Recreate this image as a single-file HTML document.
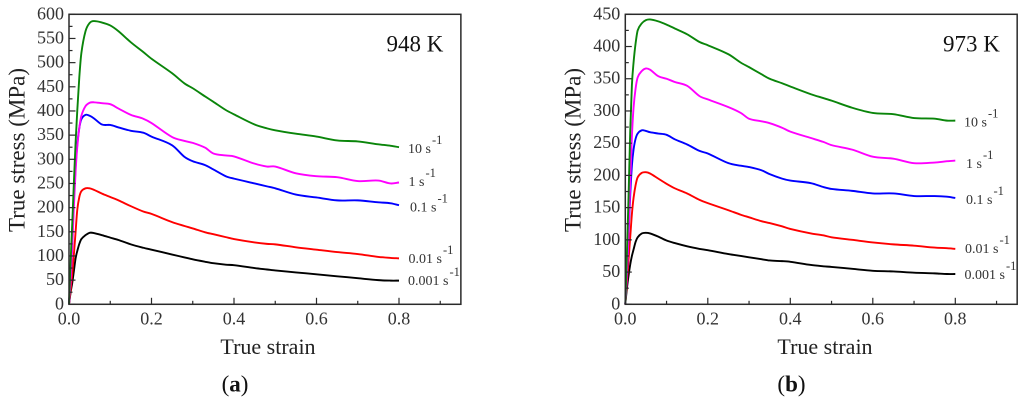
<!DOCTYPE html>
<html lang="en">
<head>
<meta charset="utf-8">
<title>True stress vs true strain at 948 K and 973 K</title>
<style>
html,body{margin:0;padding:0;background:#fff;}
body{width:1024px;height:405px;overflow:hidden;}
svg{display:block;font-family:"Liberation Serif",serif;filter:blur(0.3px);}
</style>
</head>
<body>
<svg id="figure" xmlns="http://www.w3.org/2000/svg" width="1024" height="405" viewBox="0 0 1024 405"></svg>
<script>
const strain = [0,.004,.008,.012,.016,.02,.025,.03,.04,.05,.06,.08,.1,.12,.15,.18,.2,.25,.28,.3,.33,.35,.38,.4,.45,.48,.5,.55,.6,.65,.7,.75,.78,.8];

const a001 = [0,25,45,70,95,110,125,135,143,148,147.5,143,138,133,124,117,113,103,97,93,88,85,82,81,75,72,70,66,62,58,54,50,49,49];
const a01 = [0,30,65,105,150,195,222,234,240,240,237,229,222,215,203,192,187,170,162,157,149,145,139,135,128,125,124,118,113,108,104,98,96,95];
const a1 = [0,60,135,220,285,330,365,383,392,390,385,372,371,366,359,355,347,329,305,296,288,279,265,260,250,244,240,227,221,215,215,211,209,205];
const a10 = [0,50,120,205,275,325,365,390,410,417,418,416,414,405,392,384,375,346,338,334,324,312,308,306,291,285,285,271,265,263,255,256,250,252];
const a100 = [0,90,170,255,335,400,470,520,565,582,586,583,577,565,542,522,508,478,457,447,430,419,402,393,372,364,360,353,347,339,337,331,328,325];

const b001 = [0,25,45,62,75,85,97,104,110,111,110,105,99,95,90,86,84,78,75,73,70,68,67,66,61,59,58,55,52,51,49,48,47,47];
const b01 = [0,35,70,105,140,165,185,197,204,205,203,195,187,180,172,162,157,146,139,135,129,126,121,117,110,107,104,100,96,93,91,88,87,86];
const b1 = [0,50,110,170,215,240,257,265,270,269,267,265,263,256,248,238,234,219,215,213,208,202,195,192,188,182,179,176,172,172,168,168,167,165];
const b10 = [0,50,110,190,260,305,335,352,362,366,364,354,350,345,339,323,318,306,297,288,284,281,274,268,258,252,247,240,229,226,219,220,222,223];
const b100 = [0,80,170,270,340,375,405,425,436,441,442,439,434,428,419,407,402,388,375,368,357,350,343,338,326,320,316,305,297,295,289,288,285,285];

const rateNames = ["0.001 s","0.01 s","0.1 s","1 s","10 s"];
const seriesColors = ["#000000","#ff0000","#0000ff","#ff00ff","#0a850a"];
const xTicksMajor = [0,0.2,0.4,0.6,0.8];
const xTicksMinor = [0.1,0.3,0.5,0.7,0.9];
const yTicksA = [0,50,100,150,200,250,300,350,400,450,500,550,600];
const yTicksB = [0,50,100,150,200,250,300,350,400,450];

const NS = "http://www.w3.org/2000/svg";
const root = document.getElementById("figure");

function make(parent, tag, attrs, text) {
  const el = document.createElementNS(NS, tag);
  for (const k in attrs) el.setAttribute(k, attrs[k]);
  if (text !== undefined) el.textContent = text;
  parent.appendChild(el);
  return el;
}

function smoothPath(pts) {
  let d = "M" + pts[0][0].toFixed(2) + " " + pts[0][1].toFixed(2);
  for (let i = 0; i < pts.length - 1; i++) {
    const p0 = pts[Math.max(i - 1, 0)], p1 = pts[i], p2 = pts[i + 1], p3 = pts[Math.min(i + 2, pts.length - 1)];
    const dx = p2[0] - p1[0];
    const s1 = (p2[0] - p0[0]) > 0 ? dx / (p2[0] - p0[0]) : 0;
    const s2 = (p3[0] - p1[0]) > 0 ? dx / (p3[0] - p1[0]) : 0;
    const c1x = p1[0] + (p2[0] - p0[0]) * s1 / 3, c1y = p1[1] + (p2[1] - p0[1]) * s1 / 3;
    const c2x = p2[0] - (p3[0] - p1[0]) * s2 / 3, c2y = p2[1] - (p3[1] - p1[1]) * s2 / 3;
    d += "C" + c1x.toFixed(2) + " " + c1y.toFixed(2) + " " + c2x.toFixed(2) + " " + c2y.toFixed(2) + " " + p2[0].toFixed(2) + " " + p2[1].toFixed(2);
  }
  return d;
}

function drawPanel(cfg) {
  const x = v => cfg.left + v * 412.5;
  const y = v => cfg.bottom - v / cfg.yMax * (cfg.bottom - cfg.top);
  const right = x(0.95);

  const g = make(root, "g", {});
  
  

  cfg.series.forEach((vals, s) => {
    const pts = strain.map((e, i) => [x(e), y(vals[i])]);
    const line = make(g, "path", {d: smoothPath(pts), fill: "none", stroke: seriesColors[s], "stroke-width": 1.9, "stroke-linejoin": "round"});
    
    
  });

  const frame = make(g, "rect", {x: cfg.left, y: cfg.top, width: right - cfg.left, height: cfg.bottom - cfg.top, fill: "none", stroke: "#2a2a2a", "stroke-width": 1.5});
  
  

  xTicksMajor.forEach(v => {
    const t = make(g, "line", {x1: x(v), x2: x(v), y1: cfg.bottom, y2: cfg.bottom - 6.5, stroke: "#2a2a2a", "stroke-width": 1.2});
    
    
    const l = make(g, "text", {x: x(v), y: 324.5, "text-anchor": "middle", "font-size": 18, fill: "#333"}, v.toFixed(1));
    
    
  });
  xTicksMinor.forEach(v => {
    const t = make(g, "line", {x1: x(v), x2: x(v), y1: cfg.bottom, y2: cfg.bottom - 3.5, stroke: "#2a2a2a", "stroke-width": 1.2});
    
    
  });
  cfg.yTicks.forEach((v, i) => {
    const t = make(g, "line", {x1: cfg.left, x2: cfg.left + 6.5, y1: y(v), y2: y(v), stroke: "#2a2a2a", "stroke-width": 1.2});
    
    
    const l = make(g, "text", {x: cfg.left - 5, y: y(v) + 5, "text-anchor": "end", "font-size": 18, fill: "#333"}, String(v));
    
    
    if (i < cfg.yTicks.length - 1) {
      const m = make(g, "line", {x1: cfg.left, x2: cfg.left + 3.5, y1: y(v + 25), y2: y(v + 25), stroke: "#2a2a2a", "stroke-width": 1.2});
      
      
    }
  });

  const yt = make(g, "text", {transform: "translate(" + cfg.yTitleX + " 150) rotate(-90)", "text-anchor": "middle", "font-size": 23, fill: "#222"}, "True stress (MPa)");
  
  

  const xt = make(g, "text", {x: cfg.xTitleX, y: 354, "text-anchor": "middle", "font-size": 22, fill: "#222"}, "True strain");
  
  

  const temp = make(g, "text", {x: cfg.tempX, y: 51.5, "font-size": 23, fill: "#111"}, cfg.temp);
  
  

  cfg.labels.forEach((p, s) => {
    const l = make(g, "text", {x: p[0], y: p[1], "font-size": 14, fill: "#333"}, rateNames[s]);
    
    
    make(l, "tspan", {dy: -9, dx: 1, "font-size": 12.5}, "-1");
  });

  const cap = make(g, "text", {x: cfg.capX, y: 391.5, "text-anchor": "middle", "font-size": 23, fill: "#111"});
  
  
  make(cap, "tspan", {}, "(");
  make(cap, "tspan", {"font-weight": "bold"}, cfg.cap);
  make(cap, "tspan", {}, ")");
}

drawPanel({
  left: 69, top: 14.3, bottom: 304.3, yMax: 600, yTicks: yTicksA,
  series: [a001, a01, a1, a10, a100],
  yTitleX: 24.5, xTitleX: 268, tempX: 386.5, temp: "948 K", capX: 235, cap: "a",
  labels: [[408, 285], [408.5, 263], [410, 211.5], [408.5, 186], [408, 153]]
});

drawPanel({
  left: 625.3, top: 14.3, bottom: 304.3, yMax: 450, yTicks: yTicksB,
  series: [b001, b01, b1, b10, b100],
  yTitleX: 580.5, xTitleX: 825, tempX: 943, temp: "973 K", capX: 791.5, cap: "b",
  labels: [[964.5, 279], [965, 253], [966, 204], [966, 168], [964, 126.5]]
});
</script>
</body>
</html>
